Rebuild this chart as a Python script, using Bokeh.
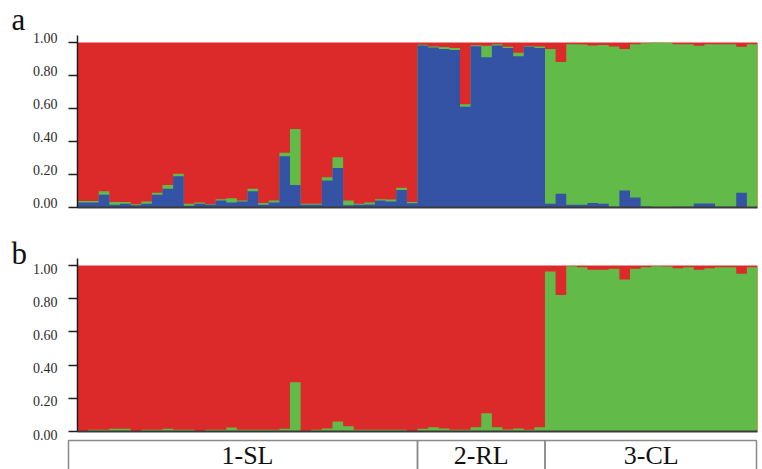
from bokeh.plotting import figure
from bokeh.models import ColumnDataSource, Range1d, FixedTicker, LinearAxis
from bokeh.core.properties import value
from bokeh.embed import file_html
from bokeh.resources import INLINE

# Populations and number of individuals in each
groups = ["1-SL", "2-RL", "3-CL"]
group_sizes = [32, 12, 20]

# Panel a (K=3): cumulative membership, blue cluster then blue+green
a_blue_top = [0.030, 0.030, 0.078, 0.016, 0.022, 0.014, 0.022, 0.078, 0.114, 0.190,
              0.010, 0.022, 0.016, 0.042, 0.030, 0.036, 0.098, 0.016, 0.030, 0.310,
              0.136, 0.016, 0.016, 0.164, 0.240, 0.014, 0.016, 0.018, 0.042, 0.036,
              0.106, 0.026,
              0.982, 0.970, 0.960, 0.954, 0.610, 0.978, 0.910, 0.982, 0.966, 0.916,
              0.974, 0.966,
              0.022, 0.084, 0.016, 0.016, 0.028, 0.022, 0.005, 0.103, 0.060, 0.006,
              0.000, 0.000, 0.004, 0.004, 0.024, 0.024, 0.004, 0.004, 0.089, 0.000]
a_green_top = [0.040, 0.040, 0.098, 0.034, 0.034, 0.020, 0.036, 0.090, 0.136, 0.204,
               0.022, 0.030, 0.020, 0.050, 0.056, 0.042, 0.114, 0.028, 0.042, 0.332,
               0.476, 0.022, 0.022, 0.184, 0.304, 0.042, 0.022, 0.030, 0.050, 0.048,
               0.120, 0.034,
               0.986, 0.976, 0.972, 0.966, 0.626, 0.984, 0.980, 0.990, 0.974, 0.938,
               0.978, 0.976,
               0.960, 0.882, 0.990, 0.988, 0.982, 0.985, 0.976, 0.960, 0.990, 0.995,
               1.000, 0.998, 0.990, 0.990, 0.980, 0.990, 0.990, 0.990, 0.975, 0.990]

# Panel b (K=2): cumulative membership of the green cluster
b_green_top = [0.002, 0.010, 0.010, 0.016, 0.016, 0.002, 0.010, 0.010, 0.016, 0.010,
               0.010, 0.002, 0.010, 0.010, 0.024, 0.010, 0.010, 0.010, 0.010, 0.016,
               0.296, 0.002, 0.010, 0.018, 0.060, 0.032, 0.010, 0.010, 0.010, 0.010,
               0.010, 0.002,
               0.016, 0.026, 0.018, 0.010, 0.010, 0.026, 0.110, 0.026, 0.012, 0.018,
               0.010, 0.026,
               0.964, 0.823, 0.996, 0.990, 0.974, 0.974, 0.980, 0.915, 0.980, 0.990,
               0.996, 0.994, 0.984, 0.990, 0.974, 0.984, 0.990, 0.990, 0.950, 0.990]

y_ticks = [0.0, 0.2, 0.4, 0.6, 0.8, 1.0]
y_tick_labels = ["0.00", "0.20", "0.40", "0.60", "0.80", "1.00"]

RED = "#dc2a2b"
BLUE = "#3453a4"
GREEN = "#62ba48"
INK = "#1e1e1e"
SERIF = value("Liberation Serif")

W, H = 762, 469
LEFT = 77                      # pixel column of the y axes
n = sum(group_sizes)
px = 680 / n                   # pixels per individual
A_ZERO, A_UNIT = 207, 165      # panel a: pixel row of 0 and pixels per unit
B_ZERO, B_UNIT = 431, 166      # panel b
AXIS_TOP = 1.0424              # axis line runs slightly above 1.0


def steps(vals):
    # one value per individual, held across [i, i+1)
    return list(vals) + [vals[-1]]


edges = list(range(n + 1))
zeros = [0.0] * (n + 1)
src_a = ColumnDataSource(dict(
    x=edges, zero=zeros,
    blue=steps(a_blue_top),
    green=steps(a_green_top),
    total=steps([g + (1.0 - g) for g in a_green_top]),
))
src_b = ColumnDataSource(dict(
    x=edges, zero=zeros,
    green=steps(b_green_top),
    total=steps([g + (1.0 - g) for g in b_green_top]),
))

p = figure(width=W, height=H,
           min_border_left=0, min_border_right=0, min_border_top=0, min_border_bottom=0,
           x_range=Range1d(-LEFT / px, (W - LEFT) / px),
           y_range=Range1d(-(H - A_ZERO) / A_UNIT, A_ZERO / A_UNIT),
           x_axis_type=None, y_axis_type=None,
           output_backend="svg", toolbar_location=None,
           background_fill_color="white", border_fill_color="white")
p.extra_y_ranges = {"b": Range1d(-(H - B_ZERO) / B_UNIT, B_ZERO / B_UNIT)}
p.outline_line_color = None
p.grid.visible = False

# Membership layers, each drawn from zero to its cumulative top (later layers on top)
p.varea_step(x="x", y1="zero", y2="total", step_mode="after", fill_color=RED, source=src_a)
p.varea_step(x="x", y1="zero", y2="green", step_mode="after", fill_color=GREEN, source=src_a)
p.varea_step(x="x", y1="zero", y2="blue", step_mode="after", fill_color=BLUE, source=src_a)
p.varea_step(x="x", y1="zero", y2="total", step_mode="after", fill_color=RED, source=src_b,
             y_range_name="b")
p.varea_step(x="x", y1="zero", y2="green", step_mode="after", fill_color=GREEN, source=src_b,
             y_range_name="b")

# Baselines under each panel
p.segment(x0=[0], x1=[n], y0=[0], y1=[0], line_color="#3a3a3a", line_width=2)
p.segment(x0=[0], x1=[n], y0=[0], y1=[0], line_color="#3a3a3a", line_width=2,
          y_range_name="b")

# Y axes pinned at the left edge of the bars
for rname in ("default", "b"):
    ax = LinearAxis(fixed_location=0, bounds=(0, AXIS_TOP),
                    ticker=FixedTicker(ticks=y_ticks),
                    major_label_overrides={t: "" for t in y_ticks},
                    axis_line_color=INK, axis_line_width=1.5,
                    major_tick_line_color=INK, major_tick_line_width=1.5,
                    major_tick_in=0, major_tick_out=9,
                    minor_tick_line_color=None)
    if rname == "b":
        ax.y_range_name = "b"
    p.add_layout(ax, "left")

# Tick labels
label_x = (57 - LEFT) / px
p.text(x=[label_x] * len(y_ticks), y=y_ticks, text=y_tick_labels,
       text_font=SERIF, text_font_size="14px", text_color="#2a2a2a",
       text_align="right", text_baseline="middle", y_offset=-5)
p.text(x=[label_x] * len(y_ticks), y=y_ticks, text=y_tick_labels,
       text_font=SERIF, text_font_size="14px", text_color="#2a2a2a",
       text_align="right", text_baseline="middle", y_offset=3, y_range_name="b")

# Panel letters
letter_x = (11 - LEFT) / px
p.text(x=[letter_x], y=[(A_ZERO - 19) / A_UNIT], text=["a"], text_font=SERIF,
       text_font_size="31px", text_color="#111111", text_baseline="middle")
p.text(x=[letter_x], y=[(B_ZERO - 253) / B_UNIT], text=["b"], text_font=SERIF,
       text_font_size="31px", text_color="#111111", text_baseline="middle",
       y_range_name="b")

# Population strip under panel b
lefts, rights, centers = [], [], []
pos = 0
for size in group_sizes:
    lefts.append(pos)
    rights.append(pos + size)
    centers.append(pos + size / 2)
    pos += size
lefts[0] = (68 - LEFT) / px
rights[-1] = (756 - LEFT) / px
strip_top = (B_ZERO - 440) / B_UNIT
p.quad(left=lefts, right=rights, top=strip_top, bottom=-0.5, fill_color=None,
       line_color="#8a8a8a", line_width=1.5, y_range_name="b")
p.text(x=centers, y=[(B_ZERO - 455) / B_UNIT] * len(groups), text=groups,
       text_font=SERIF, text_font_size="26px", text_align="center",
       text_baseline="middle", text_color="#111111", y_range_name="b")

open("out.html", "w").write(file_html(p, INLINE))
